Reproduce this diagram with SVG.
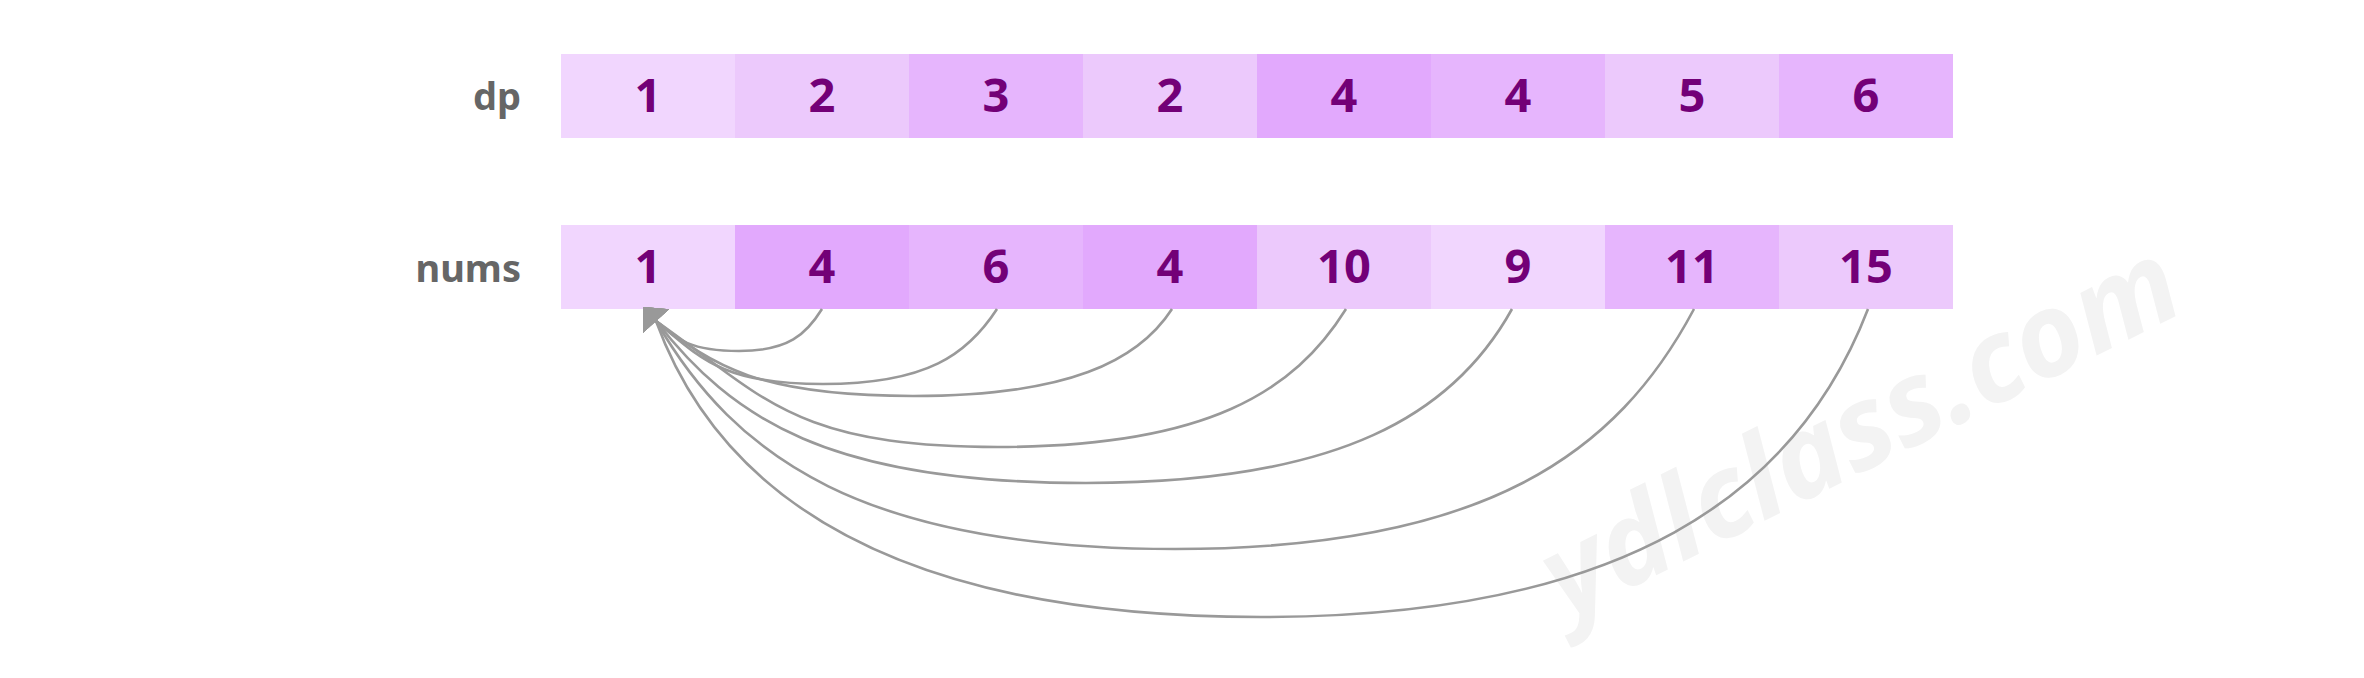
<svg xmlns="http://www.w3.org/2000/svg" width="2364" height="678" viewBox="0 0 2364 678">
<defs>
<style>
.c0{fill:#F1D6FE}.c1{fill:#ECC9FC}.c2{fill:#E6B5FD}.c3{fill:#E2A9FD}
.num{font-family:"Noto Sans","Liberation Sans",sans-serif;font-weight:700;font-size:47px;fill:#730077;text-anchor:middle}
.lbl{font-family:"Noto Sans","Liberation Sans",sans-serif;font-weight:700;font-size:38px;fill:#666666;text-anchor:end}
.wm{font-family:"Noto Sans","Liberation Sans",sans-serif;font-weight:700;font-style:italic;font-size:116px;fill:#F3F3F3}
.edge{fill:none;stroke:#999999;stroke-width:2.6;marker-end:url(#arr)}
</style>
<marker id="arr" markerUnits="userSpaceOnUse" orient="228" refX="0" refY="0" markerWidth="40" markerHeight="40" overflow="visible">
<path d="M19,0 L0,-17.5 L0,17.5 Z" fill="#999999"/>
</marker>
</defs>
<rect width="2364" height="678" fill="#FFFFFF"/>
<text class="wm" transform="translate(1566,620) rotate(-26.5)">ydlclass.com</text>

<g id="dp-label"><text class="lbl" x="521" y="110">dp</text></g>
<g id="nums-label"><text class="lbl" x="521" y="282">nums</text></g>

<g id="dp-row">
<g id="dp0"><rect class="c0" x="561" y="54" width="174" height="84"/><text class="num" x="648" y="111.5">1</text></g>
<g id="dp1"><rect class="c1" x="735" y="54" width="174" height="84"/><text class="num" x="822" y="111.5">2</text></g>
<g id="dp2"><rect class="c2" x="909" y="54" width="174" height="84"/><text class="num" x="996" y="111.5">3</text></g>
<g id="dp3"><rect class="c1" x="1083" y="54" width="174" height="84"/><text class="num" x="1170" y="111.5">2</text></g>
<g id="dp4"><rect class="c3" x="1257" y="54" width="174" height="84"/><text class="num" x="1344" y="111.5">4</text></g>
<g id="dp5"><rect class="c2" x="1431" y="54" width="174" height="84"/><text class="num" x="1518" y="111.5">4</text></g>
<g id="dp6"><rect class="c1" x="1605" y="54" width="174" height="84"/><text class="num" x="1692" y="111.5">5</text></g>
<g id="dp7"><rect class="c2" x="1779" y="54" width="174" height="84"/><text class="num" x="1866" y="111.5">6</text></g>
</g>

<g id="nums-row">
<g id="n0"><rect class="c0" x="561" y="225" width="174" height="84"/><text class="num" x="648" y="282.5">1</text></g>
<g id="n1"><rect class="c3" x="735" y="225" width="174" height="84"/><text class="num" x="822" y="282.5">4</text></g>
<g id="n2"><rect class="c2" x="909" y="225" width="174" height="84"/><text class="num" x="996" y="282.5">6</text></g>
<g id="n3"><rect class="c3" x="1083" y="225" width="174" height="84"/><text class="num" x="1170" y="282.5">4</text></g>
<g id="n4"><rect class="c1" x="1257" y="225" width="174" height="84"/><text class="num" x="1344" y="282.5">10</text></g>
<g id="n5"><rect class="c0" x="1431" y="225" width="174" height="84"/><text class="num" x="1518" y="282.5">9</text></g>
<g id="n6"><rect class="c2" x="1605" y="225" width="174" height="84"/><text class="num" x="1692" y="282.5">11</text></g>
<g id="n7"><rect class="c1" x="1779" y="225" width="174" height="84"/><text class="num" x="1866" y="282.5">15</text></g>
</g>

<g id="connectors">
<path class="edge" d="M822,309 C806.3,334.2 788.8,351 739,351 C689.2,351 676.7,339 656,321"/>
<path class="edge" d="M997,309 C967.8,354 927.4,384 823,384 C722.8,384 701,358.8 656,321"/>
<path class="edge" d="M1172,309 C1138.1,361.2 1068.4,396 913,396 C758.8,396 713.6,366 656,321"/>
<path class="edge" d="M1346,309 C1294.3,391.8 1206.8,447 998,447 C792.8,447 764,396.6 656,321"/>
<path class="edge" d="M1512,309 C1454.1,413.4 1341.6,483 1086,483 C828,483 731.9,418.2 656,321"/>
<path class="edge" d="M1694,309 C1617.4,453 1486.4,549 1175,549 C863.6,549 735,457.8 656,321"/>
<path class="edge" d="M1868,309 C1797,493.8 1625.2,617 1261,617 C898,617 720.6,498.6 656,321"/>
</g>
</svg>
